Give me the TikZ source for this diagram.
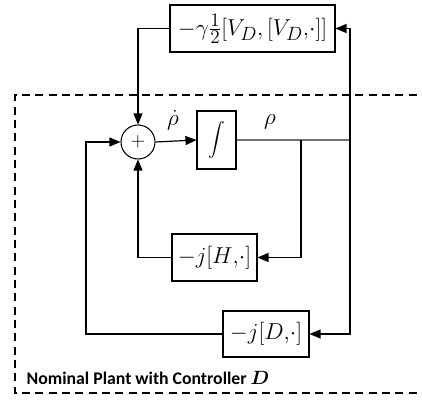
\documentclass[tikz,border=0pt]{standalone}
\usepackage{bm}
\usepackage{fontspec}
\newfontfamily\plantfont{Carlito}
\usetikzlibrary{positioning,arrows,calc}
\tikzset{
  block/.style={draw=black, line width=0.8pt, fill=white, font=\fontsize{19}{22}\selectfont, inner sep=2pt},
  sumnode/.style={draw=black, line width=0.8pt, circle, minimum size=25.5pt, inner sep=0pt, font=\Large},
  wire/.style={line width=0.9pt, draw=black},
  feed/.style={wire, -triangle 45},
  plant/.style={line width=0.9pt, dash pattern=on 6pt off 4pt},
  sig/.style={font=\fontsize{19}{22}\selectfont}
}

\begin{document}
\begin{tikzpicture}[x=0.75pt, y=-0.75pt]
    \useasboundingbox (0,0) rectangle (422,400);
    % dashed plant frame
    \draw[plant] (430,95) -- (15,95) -- (15,393) -- (430,393);
    \node[anchor=west, font=\plantfont\bfseries\fontsize{13.3}{15}\selectfont] (plantlabel) at (22,378) {Nominal Plant with Controller $\bm{D}$};

    \node[sumnode] (sum) at (138,142) {$+$};
    \node[block, minimum width=29.25pt, minimum height=43.5pt] (integ) at (216.5,140) {\scalebox{1.25}{$\displaystyle\int$}};
    \node[block, minimum width=123.75pt, minimum height=35.25pt] (gbox) at (252.5,28.5) {$-\gamma\frac{1}{2}\big[V_D{,}\,[V_D{,}\cdot]\big]$};
    \node[block, minimum width=63.75pt, minimum height=35.25pt] (hbox) at (214.5,257.5) {$-j[H{,}\cdot]$};
    \node[block, minimum width=64.5pt, minimum height=34.5pt] (dbox) at (266,334) {$-j[D{,}\cdot]$};

    \coordinate (hjoin) at (301,140);
    \coordinate (rjoin) at (350,140);
    \coordinate (dleft) at (86,142);

    \node[sig] (rhodot) at (173,120) {$\dot\rho$};
    \node[sig] (rho) at (270,122) {$\rho$};

    \draw[feed] (sum.east) -- (integ.west);
    \draw[line width=0.9pt, draw=black!55] (integ.east) -- (rjoin);
    \draw[feed] (hjoin) |- (hbox.east);
    \draw[feed] (rjoin) |- (gbox.east);
    \draw[feed] (rjoin) |- (dbox.east);
    \draw[feed] (gbox.west) -| (sum.north);
    \draw[feed] (hbox.west) -| (sum.south);
    \draw[feed] (dbox.west) -| (dleft) -- (sum.west);
\end{tikzpicture}
\end{document}
